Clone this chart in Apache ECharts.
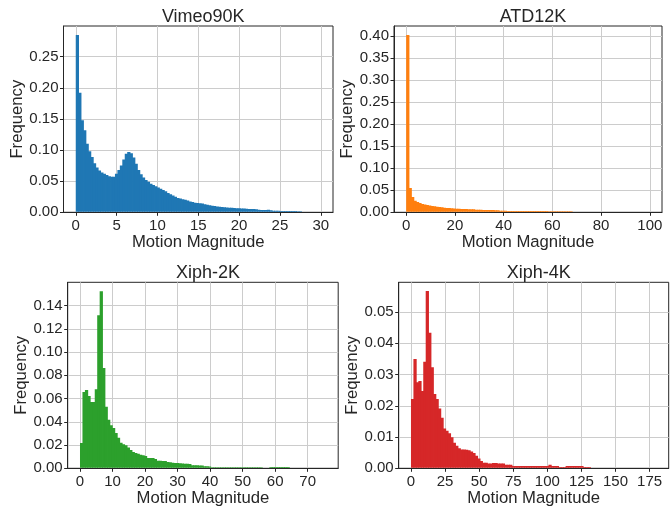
<!DOCTYPE html>
<html>
<head>
<meta charset="utf-8">
<script src="https://cdn.jsdelivr.net/npm/echarts@6/dist/echarts.min.js"></script>
<style>
  html, body { margin: 0; padding: 0; background: #fff; }
  #chart { width: 670px; height: 506px; }
</style>
</head>
<body>
<div id="chart"></div>
<script>
// panel titles and histogram bin widths (100 bins each, starting at 0)
const titles = ['Vimeo90K', 'ATD12K', 'Xiph-2K', 'Xiph-4K']
const binWidths = [0.3, 1, 0.756, 1.8]

// frequencies
const vimeoFreq = [
  0.285, 0.192, 0.148, 0.132, 0.110, 0.098, 0.089, 0.079, 0.072, 0.067,
  0.064, 0.062, 0.060, 0.058, 0.057, 0.057, 0.062, 0.068, 0.075, 0.085,
  0.094, 0.097, 0.095, 0.088, 0.078, 0.068, 0.061, 0.056, 0.052, 0.049,
  0.046, 0.044, 0.042, 0.040, 0.038, 0.036, 0.034, 0.031, 0.029, 0.027,
  0.025, 0.023, 0.022, 0.021, 0.020, 0.019, 0.0175, 0.0165, 0.0155, 0.015,
  0.0145, 0.014, 0.013, 0.012, 0.0113, 0.0107, 0.010, 0.0095, 0.009, 0.0086,
  0.0082, 0.0078, 0.0075, 0.0072, 0.0069, 0.0067, 0.0065, 0.0063, 0.006, 0.0057,
  0.0055, 0.0053, 0.0052, 0.0048, 0.0042, 0.0038, 0.0036, 0.0035, 0.0042, 0.0031,
  0.0026, 0.0024, 0.0023, 0.0022, 0.0021, 0.0021, 0.002, 0.002, 0.0019, 0.0019,
  0.0018, 0.0017, 0.0005, 0.0003, 0.0002, 0.0002, 0.0001, 0.0001, 0.0001, 0.0001
]
const atdFreq = [
  0.403, 0.055, 0.035, 0.026, 0.0235, 0.021, 0.019, 0.0175, 0.0165, 0.0155,
  0.0145, 0.0135, 0.0125, 0.0118, 0.0112, 0.0105, 0.0100, 0.0096, 0.0092, 0.0085,
  0.0082, 0.0079, 0.0077, 0.0075, 0.0074, 0.0072, 0.0070, 0.0068, 0.0060, 0.0058,
  0.0056, 0.0055, 0.0054, 0.0053, 0.0052, 0.0050, 0.0049, 0.0048, 0.0034, 0.0033,
  0.0033, 0.0032, 0.0032, 0.0031, 0.0031, 0.0031, 0.0030, 0.0030, 0.0030, 0.0029,
  0.0029, 0.0029, 0.0028, 0.0028, 0.0028, 0.0027, 0.0027, 0.0027, 0.0026, 0.0026,
  0.0026, 0.0025, 0.0025, 0.0024, 0.0024, 0.0023, 0.0023, 0.0022, 0.0003, 0.0002,
  0.0002, 0.0002, 0.0001, 0.0001, 0.0001, 0.0001, 0.0001, 0.0001, 0.0001, 0.0001,
  0.0001, 0.0001, 0.0001, 0, 0, 0, 0, 0, 0, 0,
  0, 0, 0, 0, 0, 0, 0, 0, 0, 0.0001
]
const xiph2kFreq = [
  0.0218, 0.0656, 0.0673, 0.0621, 0.057, 0.057, 0.068, 0.1317, 0.1523, 0.0862,
  0.053, 0.0418, 0.037, 0.0346, 0.0303, 0.0263, 0.022, 0.0206, 0.0198, 0.018,
  0.0157, 0.014, 0.0132, 0.0126, 0.0117, 0.0112, 0.0106, 0.0089, 0.0089, 0.0088,
  0.008, 0.0065, 0.0064, 0.0063, 0.0062, 0.0055, 0.0053, 0.0047, 0.0046, 0.0045,
  0.0044, 0.0041, 0.004, 0.0039, 0.0038, 0.0027, 0.0026, 0.0026, 0.0025, 0.0024,
  0.0018, 0.0017, 0.0016, 0.0009, 0.0009, 0.0009, 0.0009, 0.0009, 0.0009, 0.0009,
  0.0009, 0.0009, 0.0009, 0.0009, 0.0009, 0.0009, 0.0009, 0.0009, 0.0009, 0.0009,
  0.0009, 0.0009, 0.0009, 0.0009, 0.0002, 0.0002, 0.0002, 0.0011, 0.0011, 0.0011,
  0.0011, 0.0011, 0.0011, 0.0011, 0.0011, 0.0001, 0.0001, 0.0001, 0, 0,
  0, 0, 0, 0, 0, 0, 0, 0, 0, 0.0001
]
const xiph4kFreq = [
  0.0222, 0.035, 0.0275, 0.0279, 0.0247, 0.0341, 0.0567, 0.0434, 0.0323, 0.0238,
  0.0222, 0.0191, 0.0162, 0.0127, 0.012, 0.0112, 0.0099, 0.0082, 0.0072, 0.0064,
  0.006, 0.006, 0.0059, 0.0058, 0.0054, 0.0049, 0.004, 0.0031, 0.0023, 0.0018,
  0.0018, 0.0015, 0.0015, 0.0017, 0.0017, 0.0015, 0.0015, 0.0015, 0.0011, 0.0011,
  0.0011, 0.0007, 0.0007, 0.0007, 0.0007, 0.0007, 0.0007, 0.0007, 0.0007, 0.0007,
  0.0007, 0.0007, 0.0007, 0.0007, 0.0007, 0.0007, 0.0011, 0.0007, 0.0007, 0.0007,
  0.0004, 0.0004, 0.0004, 0.0007, 0.0007, 0.0007, 0.0007, 0.0007, 0.0007, 0.0007,
  0.0004, 0.0004, 0.0004, 0.0001, 0.0001, 0.0001, 0, 0, 0, 0,
  0, 0, 0, 0, 0, 0, 0, 0, 0, 0,
  0, 0, 0, 0, 0, 0, 0, 0, 0, 0.0001
]
const freqs = [vimeoFreq, atdFreq, xiph2kFreq, xiph4kFreq]

// tick labels
const xTicks = [
  [0, 5, 10, 15, 20, 25, 30],
  [0, 20, 40, 60, 80, 100],
  [0, 10, 20, 30, 40, 50, 60, 70],
  [0, 25, 50, 75, 100, 125, 150, 175]
]
const yTicks = [
  [0, 0.05, 0.10, 0.15, 0.20, 0.25],
  [0, 0.05, 0.10, 0.15, 0.20, 0.25, 0.30, 0.35, 0.40],
  [0, 0.02, 0.04, 0.06, 0.08, 0.10, 0.12, 0.14],
  [0, 0.01, 0.02, 0.03, 0.04, 0.05]
]
const xRanges = [[-1.5, 31.5], [-5, 105], [-3.78, 79.38], [-9, 189]]
const yMax = [0.2993, 0.4232, 0.160, 0.0595]

const colors = ['#1f77b4', '#ff7f0e', '#2ca02c', '#d62728']
const rects = [
  { left: 63.5, top: 26, width: 269.5, height: 186.3 },
  { left: 394, top: 26, width: 268, height: 186.3 },
  { left: 67.7, top: 282.3, width: 270.5, height: 186 },
  { left: 398.7, top: 282.3, width: 270, height: 186 }
]
const yNameGaps = [38, 38, 36, 36]

const font = 'Liberation Sans, Arial, sans-serif'
const textColor = '#262626'
const gridColor = '#cccccc'

function renderBar (params, api) {
  const p0 = api.coord([api.value(0), api.value(2)])
  const p1 = api.coord([api.value(1), 0])
  // keep the bar just above the bottom axis line so the frame stays visible
  const h = Math.max(0, p1[1] - p0[1] - 0.5)
  // slight overlap with the next bin hides anti-aliasing seams
  return {
    type: 'rect',
    shape: { x: p0[0], y: p0[1], width: p1[0] - p0[0] + 0.8, height: h },
    style: { fill: api.visual('color'), lineWidth: 0 }
  }
}

const grid = []
const xAxis = []
const yAxis = []
const series = []
const title = []

rects.forEach((r, i) => {
  grid.push({
    left: r.left, top: r.top, width: r.width, height: r.height,
    show: true, borderColor: textColor, borderWidth: 1, backgroundColor: '#fff',
    outerBoundsMode: 'none'
  })
  title.push({
    text: titles[i],
    left: r.left + r.width / 2,
    top: r.top - 23,
    textAlign: 'center',
    textStyle: { fontFamily: font, fontSize: 18, fontWeight: 'normal', color: textColor }
  })
  xAxis.push({
    type: 'value',
    gridIndex: i,
    min: xRanges[i][0],
    max: xRanges[i][1],
    name: 'Motion Magnitude',
    nameLocation: 'middle',
    nameGap: 19,
    nameTextStyle: { fontFamily: font, fontSize: 16.7, color: textColor, verticalAlign: 'top' },
    axisLine: { show: true, onZero: false, lineStyle: { color: textColor, width: 1 } },
    axisTick: { show: true, inside: false, length: 3.5, customValues: xTicks[i], lineStyle: { color: textColor } },
    axisLabel: { customValues: xTicks[i], margin: 6, fontFamily: font, fontSize: 15, color: textColor },
    splitLine: { show: true, lineStyle: { color: gridColor, width: 1 } }
  })
  yAxis.push({
    type: 'value',
    gridIndex: i,
    min: 0,
    max: yMax[i],
    name: 'Frequency',
    nameLocation: 'middle',
    nameGap: yNameGaps[i],
    nameTextStyle: { fontFamily: font, fontSize: 16.7, color: textColor },
    axisLine: { show: true, onZero: false, lineStyle: { color: textColor, width: 1 } },
    axisTick: { show: true, inside: false, length: 3.5, customValues: yTicks[i], lineStyle: { color: textColor } },
    axisLabel: {
      customValues: yTicks[i],
      margin: 5,
      fontFamily: font,
      fontSize: 15,
      color: textColor,
      formatter: v => v.toFixed(2)
    },
    splitLine: { show: true, lineStyle: { color: gridColor, width: 1 } }
  })
  series.push({
    type: 'custom',
    xAxisIndex: i,
    yAxisIndex: i,
    renderItem: renderBar,
    itemStyle: { color: colors[i], borderWidth: 0 },
    encode: { x: [0, 1], y: 2 },
    clip: true,
    silent: true,
    z: 2,
    data: freqs[i].map((f, k) => [k * binWidths[i], (k + 1) * binWidths[i], f])
  })
})

const chart = echarts.init(document.getElementById('chart'), null, { renderer: 'canvas' })
chart.setOption({
  animation: false,
  backgroundColor: '#fff',
  title: title,
  grid: grid,
  xAxis: xAxis,
  yAxis: yAxis,
  series: series
})
</script>
</body>
</html>
